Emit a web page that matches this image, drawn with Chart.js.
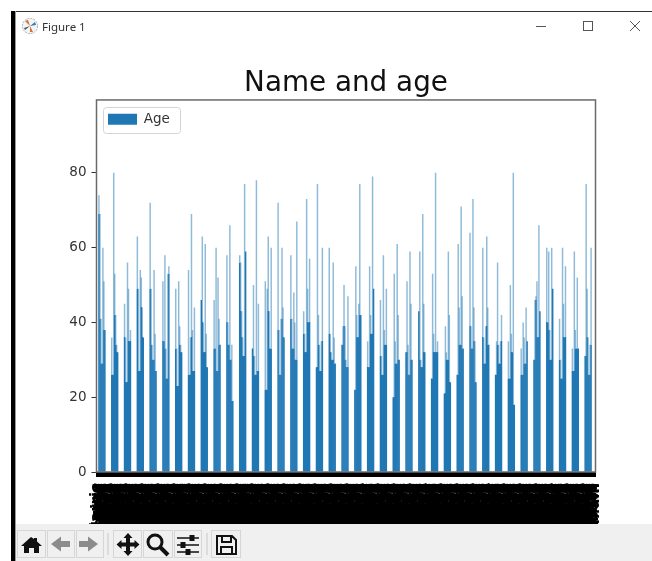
<!DOCTYPE html>
<html>
<head>
<meta charset="utf-8">
<title>Figure 1</title>
<script src="https://cdn.jsdelivr.net/npm/chart.js@4"></script>
<style>
    html, body { margin: 0; padding: 0; background: #fff; overflow: hidden; }
    #win { position: relative; width: 652px; height: 561px; overflow: hidden; }
    #chart { position: absolute; left: 0; top: 0; }
    .chrome { position: absolute; z-index: 2; }
    #edge-left { left: 11px; top: 11px; width: 4px; height: 550px; background: #000; border-right: 1px solid #999; }
    #edge-top { left: 11px; top: 11px; width: 641px; height: 1px; background: #333; }
    #caption { left: 42px; top: 19px; font: 11.5px "Noto Sans", sans-serif; color: #333; }
    #toolbar { left: 16px; top: 524px; width: 636px; height: 37px; background: #f0f0f0; }
</style>
</head>
<body>
<div id="win">
    <canvas id="chart" width="652" height="561"></canvas>
    <div class="chrome" id="edge-top"></div>
    <div class="chrome" id="edge-left"></div>
    <svg class="chrome" style="left:21px;top:17px" width="18" height="18" viewBox="0 0 18 18">
        <circle cx="9" cy="9" r="7.6" fill="#f4f4f4" stroke="#9fb4c4" stroke-width="1" stroke-dasharray="2 1"/>
        <path d="M9 9 L4 4 L7 3 Z" fill="#c9743a"/><path d="M9 9 L14 5 L15 8 Z" fill="#3d7ea6"/>
        <path d="M9 9 L12 15 L9 15 Z" fill="#c9743a"/><path d="M9 9 L3 11 L4 13 Z" fill="#555"/>
    </svg>
    <div class="chrome" id="caption">Figure 1</div>
    <svg class="chrome" style="left:530px;top:16px" width="116" height="20" viewBox="0 0 116 20" fill="none" stroke="#555" stroke-width="1">
        <path d="M6 10.5 H16"/><rect x="53.5" y="5.5" width="9" height="9"/><path d="M100 5 L110 15 M110 5 L100 15"/>
    </svg>
    <div class="chrome" id="toolbar"></div>
    <svg class="chrome" style="left:16px;top:524px" width="236" height="37" viewBox="0 0 236 37">
        <g fill="none" stroke="#d6d6d6"><rect x="1.5" y="6.5" width="28" height="27"/><rect x="31.5" y="6.5" width="27" height="27"/><rect x="60.5" y="6.5" width="27" height="27"/>
            <rect x="97.5" y="6.5" width="28" height="27"/><rect x="127.5" y="6.5" width="29" height="27"/><rect x="158.5" y="6.5" width="27" height="27"/><rect x="195.5" y="6.5" width="29" height="27"/></g>
        <path d="M92 9 V31 M191 9 V31" stroke="#c8c8c8"/>
        <path d="M15 13 L5 22 H8 V29 H13 V24 H18 V29 H23 V22 H26 L21 17.5 V14 H18 V15 Z" fill="#111"/>
        <path d="M35 20 L45 12.5 V17 H54 V23 H45 V27.5 Z" fill="#8c8c8c"/>
        <path d="M82 20 L72 12.5 V17 H63 V23 H72 V27.5 Z" fill="#8c8c8c"/>
        <path d="M112 9 L116.5 14 H114 V18.5 H118.5 V16 L123.5 20.5 L118.5 25 V22.5 H114 V27 H116.5 L112 32 L107.5 27 H110 V22.5 H105.500 V25 L100.500 20.5 L105.500 16 V18.5 H110 V14 H107.500 Z" fill="#111"/>
        <circle cx="139" cy="18" r="7" fill="none" stroke="#111" stroke-width="3"/><path d="M144 23 L152 31" stroke="#111" stroke-width="4"/>
        <g stroke="#111" fill="#111"><path d="M161 14 H183 M161 21 H183 M161 28 H183" stroke-width="1.5"/><rect x="174" y="11.5" width="4" height="5"/><rect x="165" y="18.500" width="4" height="5"/><rect x="170" y="25.500" width="4" height="5"/></g>
        <path d="M201 12 H216 L220 16 V30 H201 Z M206 12 V18 H215 V12 M205 30 V23 H216 V30" fill="none" stroke="#111" stroke-width="2"/>
    </svg>
</div>

<script>
const title = 'Name and age';
const seriesName = 'Age';
const yTickValues = [0, 20, 40, 60, 80];
const yMax = 99.5;

// one line = one cluster seen in the picture (seven visible columns, six empty ones)
const ages = [
    0, 0,
    74, 69, 41, 29, 60, 51, 38, 0, 0, 0, 0, 0, 0,
    36, 26, 80, 53, 42, 34, 32, 0, 0, 0, 0, 0, 0,
    45, 36, 24, 56, 49, 35, 38, 0, 0, 0, 0, 0, 0,
    63, 49, 27, 54, 52, 44, 36, 0, 0, 0, 0, 0, 0,
    72, 49, 34, 30, 54, 37, 27, 0, 0, 0, 0, 0, 0,
    51, 35, 58, 33, 25, 53, 55, 0, 0, 0, 0, 0, 0,
    49, 33, 23, 51, 39, 34, 32, 0, 0, 0, 0, 0, 0,
    54, 26, 36, 69, 38, 27, 44, 0, 0, 0, 0, 0, 0,
    46, 63, 40, 32, 61, 37, 28, 0, 0, 0, 0, 0, 0,
    46, 33, 60, 27, 52, 41, 34, 0, 0, 0, 0, 0, 0,
    58, 40, 34, 66, 30, 34, 19, 0, 0, 0, 0, 0, 0,
    58, 56, 43, 36, 31, 77, 59, 0, 0, 0, 0, 0, 0,
    33, 50, 31, 26, 78, 27, 45, 0, 0, 0, 0, 0, 0,
    51, 22, 49, 63, 43, 33, 60, 0, 0, 0, 0, 0, 0,
    72, 38, 26, 41, 60, 44, 36, 0, 0, 0, 0, 0, 0,
    58, 41, 33, 48, 40, 30, 67, 0, 0, 0, 0, 0, 0,
    43, 37, 32, 73, 49, 40, 57, 0, 0, 0, 0, 0, 0,
    28, 77, 42, 34, 27, 35, 60, 0, 0, 0, 0, 0, 0,
    60, 37, 32, 30, 56, 36, 29, 0, 0, 0, 0, 0, 0,
    34, 39, 50, 39, 30, 28, 47, 0, 0, 0, 0, 0, 0,
    22, 55, 42, 36, 45, 77, 42, 0, 0, 0, 0, 0, 0,
    35, 28, 55, 42, 37, 79, 49, 0, 0, 0, 0, 0, 0,
    46, 31, 26, 58, 38, 34, 49, 0, 0, 0, 0, 0, 0,
    20, 53, 35, 29, 61, 42, 30, 0, 0, 0, 0, 0, 0,
    32, 51, 34, 26, 59, 45, 30, 0, 0, 0, 0, 0, 0,
    43, 59, 30, 28, 69, 45, 32, 0, 0, 0, 0, 0, 0,
    25, 53, 37, 32, 80, 32, 35, 0, 0, 0, 0, 0, 0,
    21, 39, 32, 30, 59, 42, 24, 0, 0, 0, 0, 0, 0,
    26, 61, 44, 34, 71, 47, 33, 0, 0, 0, 0, 0, 0,
    64, 39, 33, 73, 44, 35, 24, 0, 0, 0, 0, 0, 0,
    60, 36, 29, 39, 63, 44, 34, 0, 0, 0, 0, 0, 0,
    26, 35, 56, 34, 29, 35, 42, 0, 0, 0, 0, 0, 0,
    35, 25, 50, 37, 32, 80, 18, 0, 0, 0, 0, 0, 0,
    33, 26, 40, 36, 29, 44, 35, 0, 0, 0, 0, 0, 0,
    30, 46, 47, 51, 36, 66, 43, 0, 0, 0, 0, 0, 0,
    60, 40, 59, 38, 30, 60, 49, 0, 0, 0, 0, 0, 0,
    41, 30, 25, 60, 45, 36, 55, 0, 0, 0, 0, 0, 0,
    33, 27, 59, 38, 33, 52, 33, 0, 0, 0, 0, 0, 0,
    31, 77, 49, 36, 26, 34, 60, 0, 0, 0, 0,
];

// names overlap into a solid block in the reference, none can be read
const names = [
    'Braund, Mr. Owen Harris', 'Heikkinen, Miss. Laina', 'Allen, Mr. William Henry', 'Moran, Mr. James',
    'McCarthy, Mr. Timothy J', 'Palsson, Master. Gosta Leonard', 'Johnson, Mrs. Oscar W', 'Nasser, Mrs. Nicholas',
    'Sandstrom, Miss. Marguerite', 'Bonnell, Miss. Elizabeth', 'Saundercock, Mr. William', 'Andersson, Mr. Anders Johan',
    'Vestrom, Miss. Hulda Amanda', 'Hewlett, Mrs. George', 'Rice, Master. Eugene', 'Williams, Mr. Charles Eugene'
];
const labels = ages.map((_, i) => names[i % names.length]);

const BLUE = '#1f77b4';
const BLUE_LIGHT = 'rgba(31,119,180,0.5)';
const PLOT = { left: 96.5, right: 595.5, top: 100, bottom: 472 };

// the part of a bar that sticks out above its neighbours looks washed out in the reference
function barFill(ctx) {
    const chart = ctx.chart;
    if (ctx.dataIndex === undefined || !chart.chartArea) return BLUE;
    const i = ctx.dataIndex;
    const v = ages[i];
    const l = ages[i - 1] || 0, r = ages[i + 1] || 0;
    const body = l && r ? Math.min(l, r) : Math.max(l, r);
    if (v <= body) return BLUE;
    const y = chart.scales.y;
    const top = y.getPixelForValue(v), bottom = y.getPixelForValue(0);
    const f = (y.getPixelForValue(body) - top) / (bottom - top);
    const g = chart.ctx.createLinearGradient(0, top, 0, bottom);
    g.addColorStop(0, BLUE_LIGHT);
    g.addColorStop(f, BLUE_LIGHT);
    g.addColorStop(f, BLUE);
    g.addColorStop(1, BLUE);
    return g;
}

// axes frame + legend box, matplotlib style
const framePlugin = {
    id: 'frame',
    afterLayout(chart) {
        const lg = chart.legend;
        lg.left = 103;
        lg.right = lg.left + lg.width;
        lg.top = 107.5;
        lg.bottom = lg.top + lg.height;
    },
    afterDraw(chart) {
        const { ctx, chartArea: a, legend: lg } = chart;
        ctx.save();
        ctx.strokeStyle = '#6a6a6a';
        ctx.lineWidth = 1.5;
        ctx.strokeRect(a.left, a.top, a.right - a.left, a.bottom - a.top);
        ctx.strokeStyle = '#d4d4d4';
        ctx.lineWidth = 1;
        ctx.beginPath();
        ctx.roundRect(103.5, 107.5, 77, 26, 3);
        ctx.stroke();
        ctx.restore();
    }
};

const dejavu = '"DejaVu Sans", sans-serif';

new Chart(document.getElementById('chart'), {
    type: 'bar',
    data: {
        labels: labels,
        datasets: [{
            label: seriesName,
            data: ages,
            backgroundColor: barFill,
            borderWidth: 0,
            barPercentage: 1.5,
            categoryPercentage: 1
        }]
    },
    options: {
        responsive: false,
        animation: false,
        events: [],
        layout: { padding: { left: 0, right: 652 - PLOT.right, top: 0, bottom: 0 } },
        scales: {
            x: {
                afterFit(s) { s.height = 561 - PLOT.bottom; },
                grid: { offset: false, drawOnChartArea: false, tickLength: 5, tickColor: '#000', tickWidth: 1 },
                border: { display: false },
                ticks: {
                    autoSkip: false, minRotation: 90, maxRotation: 90, padding: 6,
                    color: '#000', font: { family: dejavu, size: 15, weight: 'bold' }
                }
            },
            y: {
                min: 0,
                max: yMax,
                afterFit(s) { s.width = PLOT.left; },
                afterBuildTicks(s) { s.ticks = yTickValues.map(v => ({ value: v })); },
                grid: { drawOnChartArea: false, tickLength: 5, tickColor: '#333', tickWidth: 1 },
                border: { display: false },
                ticks: { padding: 5, color: '#333', font: { family: dejavu, size: 13.5 } }
            }
        },
        plugins: {
            tooltip: { enabled: false },
            title: {
                display: true,
                text: title,
                fullSize: false,
                color: '#111',
                font: { family: dejavu, size: 27.8, weight: 'normal', lineHeight: 1.2 },
                padding: { top: 66.6, bottom: 0 }
            },
            legend: {
                position: 'chartArea',
                align: 'start',
                labels: {
                    boxWidth: 29, boxHeight: 11, padding: 5,
                    color: '#333', font: { family: dejavu, size: 13.5 }
                }
            }
        }
    },
    plugins: [framePlugin]
});
</script>
</body>
</html>
